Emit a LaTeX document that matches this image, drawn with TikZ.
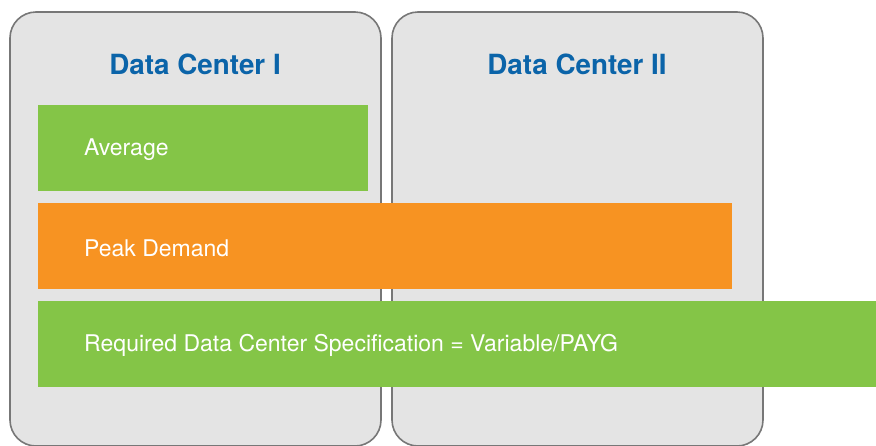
\documentclass[tikz,border=0pt]{standalone}
\usepackage{fontspec}
\setmainfont{TeX Gyre Heros}
\definecolor{panelgray}{HTML}{E4E4E4}
\definecolor{panelline}{HTML}{777777}
\definecolor{dcblue}{HTML}{0B64A9}
\definecolor{bargreen}{HTML}{84C547}
\definecolor{barorange}{HTML}{F79322}
\begin{document}
\begin{tikzpicture}[x=1pt,y=-1pt,
  panel/.style={draw=panelline,line width=1.6pt,fill=panelgray,rounded corners=26pt},
  dctitle/.style={text=dcblue,font=\fontsize{27.8}{30}\selectfont\bfseries,anchor=center},
  bar/.style={anchor=north west,inner sep=0pt,minimum height=86pt},
  bartext/.style={text=white,font=\fontsize{23}{26}\selectfont,anchor=west,inner sep=0pt}]
\useasboundingbox (0,0) rectangle (876,445);
\begin{scope}
\clip (0,0) rectangle (876,445);
\draw[panel] (10,12) rectangle (381,446);
\draw[panel] (392,12) rectangle (763,446);
\end{scope}
\node[dctitle] (t1) at (195,64) {Data Center I};
\node[dctitle] (t2) at (577,64) {Data Center II};
\node[bar,fill=bargreen,minimum width=330pt] (avg) at (38,105) {};
\node[bar,fill=barorange,minimum width=694pt] (peak) at (38,203) {};
\node[bar,fill=bargreen,minimum width=838pt] (req) at (38,301) {};
\node[bartext] (avgt) at (84,150) {Average};
\node[bartext] (peakt) at (84,248) {Peak Demand};
\node[bartext] (reqt) at (84,345) {Required Data Center Specification = Variable/PAYG};
\end{tikzpicture}
\end{document}
